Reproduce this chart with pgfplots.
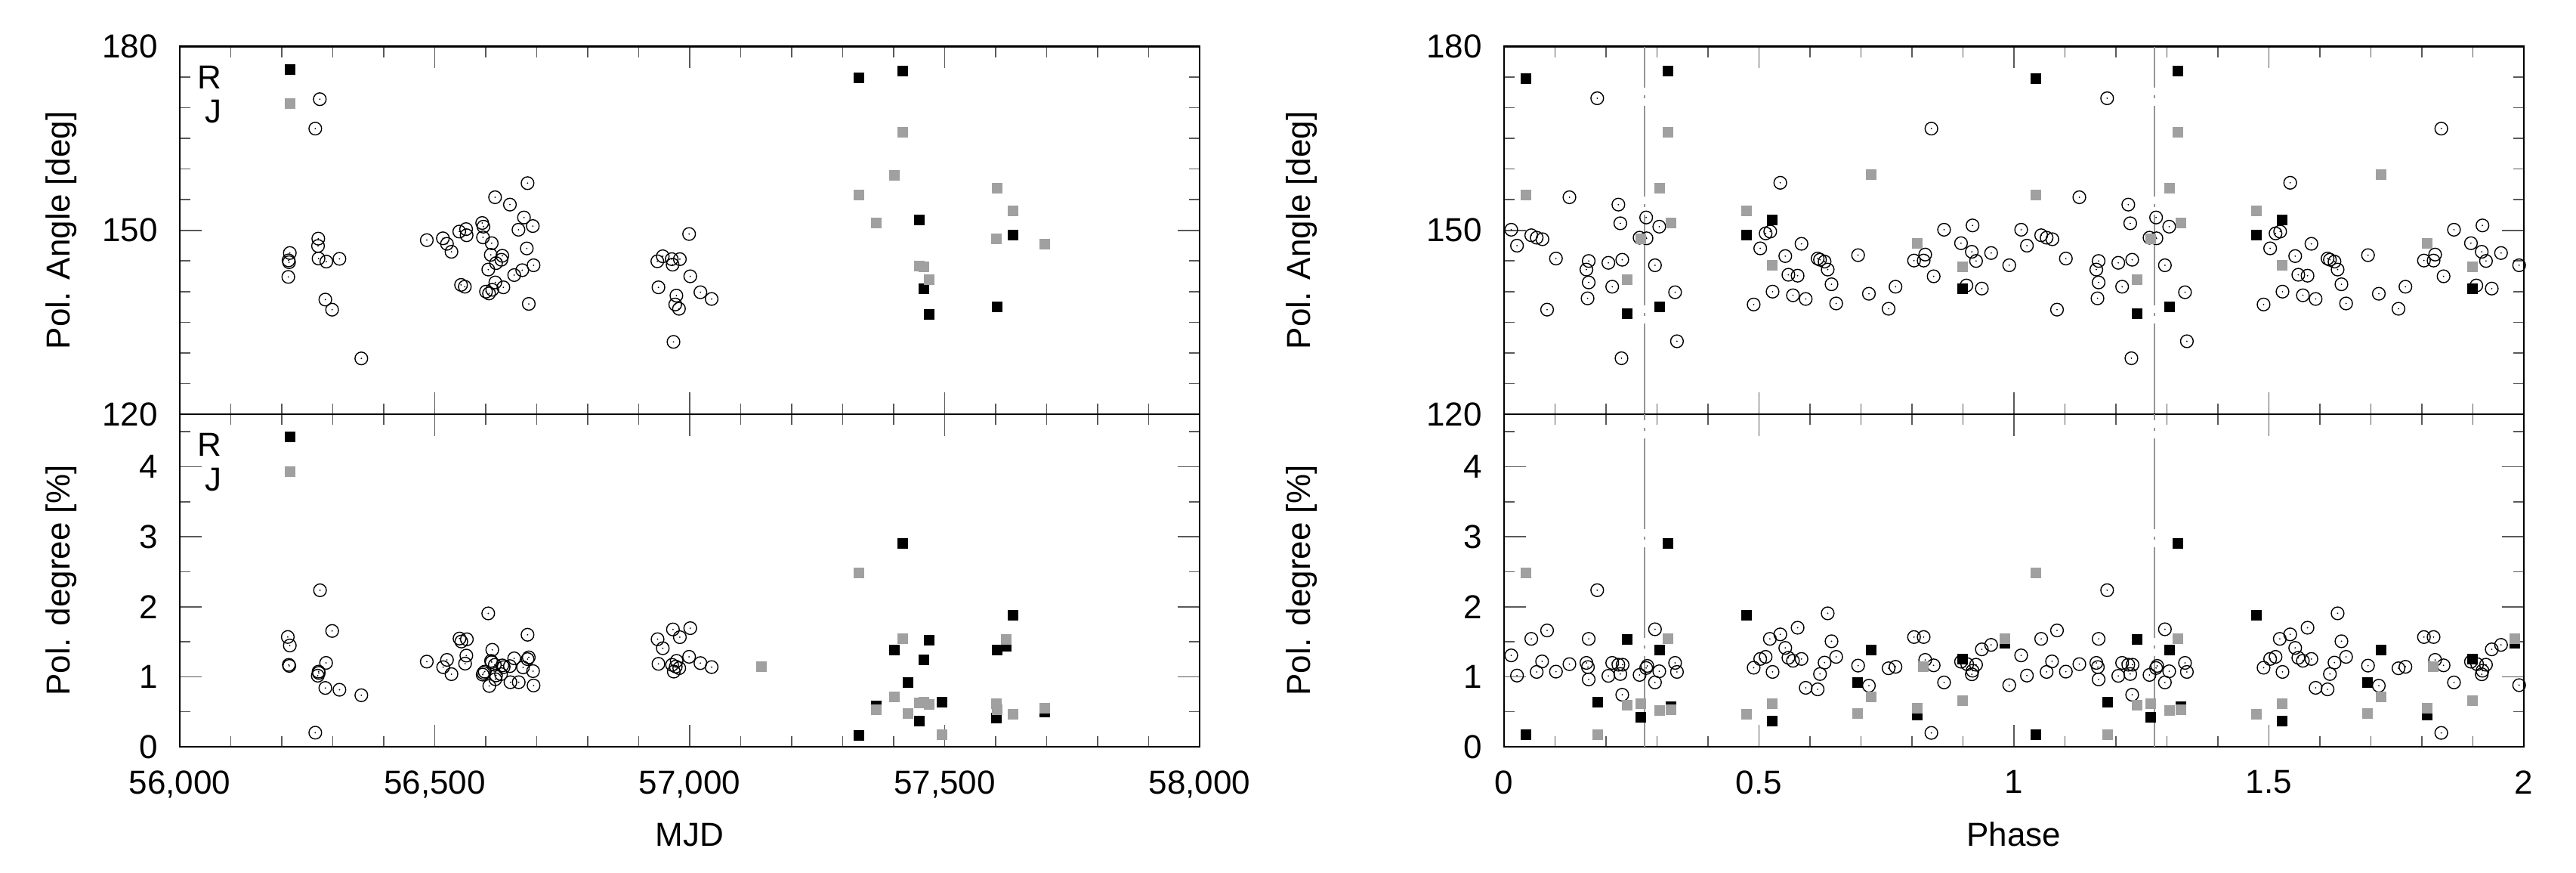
\documentclass[border=0pt]{standalone}
\usepackage{fontspec}
\setmainfont{Liberation Sans}
\usepackage{pgfplots}
\usepackage{pgfplotstable}
\pgfplotsset{compat=1.18}

\definecolor{jgray}{RGB}{160,160,160}
\definecolor{lgray}{RGB}{150,150,150}

% open circle with a small dot in the middle
\pgfdeclareplotmark{cdot}{%
  \pgfpathcircle{\pgfpointorigin}{\pgfplotmarksize}\pgfusepathqstroke
  \pgfpathcircle{\pgfpointorigin}{0.25pt}\pgfusepathqfill}
% plain filled square, no outline
\pgfdeclareplotmark{fsq}{%
  \pgfpathrectangle{\pgfpoint{-\pgfplotmarksize}{-\pgfplotmarksize}}%
    {\pgfpoint{2\pgfplotmarksize}{2\pgfplotmarksize}}\pgfusepathqfill}

% ---------------- MJD panels ----------------
\pgfplotstableread{
x y
56274.6 171.4
56265.7 166.6
56682.0 157.7
56618.3 155.4
56647.4 154.2
56675.0 152.1
56692.3 150.7
56664.2 150.1
56593.0 151.2
56595.5 150.6
56594.6 148.85
56611.8 147.9
56561.5 150.2
56562.5 149.2
56548.1 149.8
56516.0 148.7
56524.0 147.8
56532.8 146.5
56484.4 148.4
56680.5 147.05
56609.9 146.0
56632.6 145.85
56630.6 145.2
56620.2 144.65
56693.8 144.3
56605.0 143.6
56671.6 143.5
56655.8 142.7
56618.8 141.5
56634.6 140.7
56612.8 140.3
56600.5 140.0
56606.4 139.7
56551.6 141.1
56559.0 140.8
56684.4 138.0
56271.6 148.65
56271.1 147.45
56215.8 146.3
56213.3 145.1
56214.3 144.8
56272.1 145.4
56287.4 144.9
56313.1 145.35
56212.8 142.4
56285.4 138.7
56298.7 137.05
56356.0 129.1
56998.8 149.4
56947.2 145.77
56936.5 144.95
56964.8 145.3
56980.7 145.3
56966.5 144.4
57001.1 142.5
56938.7 140.7
56973.9 139.35
57021.0 139.9
57043.0 138.8
56971.6 137.9
56979.0 137.2
56968.2 131.8
}\ltopO

\pgfplotstableread{
x y
57331.6 174.84
57417.8 176.0
57450.1 151.65
57634.3 149.2
57459.7 140.5
57469.3 136.27
57603.2 137.46
}\ltopR

\pgfplotstableread{
x y
57417.8 166.0
57401.9 159.0
57331.6 155.76
57365.6 151.2
57603.2 156.83
57634.3 153.2
57602.0 148.56
57696.1 147.8
57450.1 144.2
57459.7 144.0
57469.3 141.95
}\ltopJ

\pgfplotstableread{
x y
56275.0 2.235
56298.8 1.654
56211.8 1.568
56215.8 1.446
56213.8 1.17
56214.8 1.155
56286.9 1.198
56272.1 1.073
56272.6 1.055
56270.6 1.015
56285.4 0.840
56313.1 0.814
56356.0 0.736
56265.7 0.201
56604.9 1.905
56682.0 1.600
56548.6 1.546
56552.1 1.503
56563.0 1.535
56612.8 1.385
56562.0 1.302
56559.5 1.188
56484.4 1.216
56524.0 1.241
56516.5 1.137
56532.8 1.037
56610.4 1.227
56611.8 1.209
56617.8 1.17
56655.8 1.263
56684.4 1.277
56682.0 1.252
56673.1 1.134
56692.8 1.08
56632.6 1.162
56635.1 1.137
56647.4 1.152
56598.0 1.073
56595.5 1.055
56594.0 1.03
56620.2 1.019
56630.0 1.037
56618.8 0.965
56648.4 0.922
56664.7 0.922
56606.9 0.868
56693.8 0.875
57001.1 1.694
56967.1 1.676
56980.7 1.565
56937.0 1.536
56947.2 1.407
56998.8 1.285
56938.7 1.184
57021.0 1.195
57043.0 1.138
56974.4 1.227
56965.4 1.17
56972.7 1.145
56979.5 1.123
56968.8 1.073
}\lbotO

\pgfplotstableread{
x y
57418.3 2.903
57634.3 1.873
57469.3 1.525
57401.9 1.378
57603.2 1.378
57621.3 1.432
57459.7 1.245
57428.0 0.919
57494.3 0.635
57365.6 0.578
57450.1 0.37
57602.0 0.413
57696.1 0.495
57331.6 0.165
}\lbotR

\pgfplotstableread{
x y
57140.0 1.145
57331.6 2.487
57418.3 1.54
57621.3 1.536
57401.9 0.714
57365.6 0.524
57450.1 0.625
57459.7 0.642
57469.3 0.6
57428.0 0.474
57494.3 0.176
57602.0 0.617
57603.2 0.524
57634.3 0.467
57696.1 0.553
}\lbotJ

% ---------------- phase panels (two cycles) ----------------
\pgfplotstableread{
x y
0.0141 150.1
0.0254 147.5
0.0534 149.2
0.0640 148.8
0.0753 148.55
0.0844 137.06
0.1018 145.4
0.1282 155.4
0.1615 143.6
0.1660 145.0
0.1660 141.5
0.1638 138.9
0.1827 171.55
0.2046 144.7
0.2121 140.8
0.2242 154.2
0.2280 151.15
0.2318 145.2
0.2303 129.13
0.2658 148.8
0.2787 152.1
0.2794 148.7
0.2960 144.3
0.3044 150.6
0.3354 139.9
0.3391 131.9
0.4895 137.9
0.5024 147.06
0.5130 149.5
0.5220 149.8
0.5266 140.0
0.5417 157.76
0.5515 145.8
0.5576 142.75
0.5666 139.4
0.5757 142.6
0.5833 147.8
0.5916 138.8
0.6150 145.4
0.6196 145.2
0.6286 144.9
0.6347 143.6
0.6422 141.2
0.6513 138.07
0.6943 145.95
0.7155 139.65
0.7541 137.2
0.7677 140.8
0.8040 145.07
0.8229 145.07
0.8259 146.05
0.8380 166.6
0.8425 142.5
0.8629 150.1
0.8962 147.9
0.9068 141.0
0.9173 146.5
0.9188 150.8
0.9257 145.0
0.9370 140.5
0.9552 146.3
0.9907 144.3
1.0141 150.1
1.0254 147.5
1.0534 149.2
1.0640 148.8
1.0753 148.55
1.0844 137.06
1.1018 145.4
1.1282 155.4
1.1615 143.6
1.1660 145.0
1.1660 141.5
1.1638 138.9
1.1827 171.55
1.2046 144.7
1.2121 140.8
1.2242 154.2
1.2280 151.15
1.2318 145.2
1.2303 129.13
1.2658 148.8
1.2787 152.1
1.2794 148.7
1.2960 144.3
1.3044 150.6
1.3354 139.9
1.3391 131.9
1.4895 137.9
1.5024 147.06
1.5130 149.5
1.5220 149.8
1.5266 140.0
1.5417 157.76
1.5515 145.8
1.5576 142.75
1.5666 139.4
1.5757 142.6
1.5833 147.8
1.5916 138.8
1.6150 145.4
1.6196 145.2
1.6286 144.9
1.6347 143.6
1.6422 141.2
1.6513 138.07
1.6943 145.95
1.7155 139.65
1.7541 137.2
1.7677 140.8
1.8040 145.07
1.8229 145.07
1.8259 146.05
1.8380 166.6
1.8425 142.5
1.8629 150.1
1.8962 147.9
1.9068 141.0
1.9173 146.5
1.9188 150.8
1.9257 145.0
1.9370 140.5
1.9552 146.3
1.9907 144.3
}\rtopO

\pgfplotstableread{
x y
0.0436 174.8
0.2416 136.35
0.3051 137.5
0.3210 175.95
0.4752 149.2
0.5258 151.65
0.8999 140.5
1.0436 174.8
1.2416 136.35
1.3051 137.5
1.3210 175.95
1.4752 149.2
1.5258 151.65
1.8999 140.5
}\rtopR

\pgfplotstableread{
x y
0.0436 155.74
0.2416 141.99
0.2688 148.56
0.3051 156.84
0.3210 166.0
0.3278 151.2
0.4752 153.2
0.5258 144.24
0.7193 159.04
0.8108 147.85
0.8999 144.0
1.0436 155.74
1.2416 141.99
1.2688 148.56
1.3051 156.84
1.3210 166.0
1.3278 151.2
1.4752 153.2
1.5258 144.24
1.7193 159.04
1.8108 147.85
1.8999 144.0
}\rtopJ

\pgfplotstableread{
x y
0.0141 1.305
0.0254 1.017
0.0534 1.541
0.0640 1.069
0.0746 1.219
0.0844 1.661
0.1018 1.073
0.1282 1.18
0.1615 1.198
0.1645 1.138
0.1660 1.541
0.1660 0.962
0.1827 2.236
0.2046 1.013
0.2121 1.198
0.2242 1.172
0.2280 1.039
0.2325 1.172
0.2318 0.743
0.2658 1.026
0.2787 1.125
0.2809 1.155
0.2960 1.678
0.2960 0.919
0.3044 1.078
0.3354 1.198
0.3391 1.069
0.4895 1.129
0.5024 1.254
0.5130 1.284
0.5213 1.541
0.5266 1.069
0.5417 1.605
0.5515 1.412
0.5576 1.271
0.5666 1.228
0.5757 1.700
0.5833 1.254
0.5916 0.842
0.6150 0.820
0.6196 1.039
0.6286 1.202
0.6347 1.906
0.6422 1.507
0.6513 1.284
0.6943 1.159
0.7155 0.872
0.7541 1.121
0.7677 1.142
0.8040 1.567
0.8229 1.567
0.8259 1.241
0.8380 0.198
0.8425 1.163
0.8629 0.919
0.8962 1.215
0.9083 1.180
0.9173 1.035
0.9188 1.086
0.9257 1.172
0.9370 1.391
0.9552 1.455
0.9907 0.880
1.0141 1.305
1.0254 1.017
1.0534 1.541
1.0640 1.069
1.0746 1.219
1.0844 1.661
1.1018 1.073
1.1282 1.18
1.1615 1.198
1.1645 1.138
1.1660 1.541
1.1660 0.962
1.1827 2.236
1.2046 1.013
1.2121 1.198
1.2242 1.172
1.2280 1.039
1.2325 1.172
1.2318 0.743
1.2658 1.026
1.2787 1.125
1.2809 1.155
1.2960 1.678
1.2960 0.919
1.3044 1.078
1.3354 1.198
1.3391 1.069
1.4895 1.129
1.5024 1.254
1.5130 1.284
1.5213 1.541
1.5266 1.069
1.5417 1.605
1.5515 1.412
1.5576 1.271
1.5666 1.228
1.5757 1.700
1.5833 1.254
1.5916 0.842
1.6150 0.820
1.6196 1.039
1.6286 1.202
1.6347 1.906
1.6422 1.507
1.6513 1.284
1.6943 1.159
1.7155 0.872
1.7541 1.121
1.7677 1.142
1.8040 1.567
1.8229 1.567
1.8259 1.241
1.8380 0.198
1.8425 1.163
1.8629 0.919
1.8962 1.215
1.9083 1.180
1.9173 1.035
1.9188 1.086
1.9257 1.172
1.9370 1.391
1.9552 1.455
1.9907 0.880
}\rbotO

\pgfplotstableread{
x y
0.0436 0.172
0.1842 0.640
0.2416 1.528
0.2688 0.417
0.3051 1.378
0.3210 2.905
0.3278 0.57
0.4752 1.876
0.5258 0.366
0.6929 0.919
0.7193 1.378
0.8108 0.45
0.8999 1.25
0.9823 1.48
1.0436 0.172
1.1842 0.640
1.2416 1.528
1.2688 0.417
1.3051 1.378
1.3210 2.905
1.3278 0.57
1.4752 1.876
1.5258 0.366
1.6929 0.919
1.7193 1.378
1.8108 0.45
1.8999 1.25
1.9823 1.48
}\rbotR

\pgfplotstableread{
x y
0.0436 2.485
0.1842 0.177
0.2416 0.597
0.2688 0.618
0.3051 0.520
0.3210 1.541
0.3278 0.533
0.4752 0.468
0.5258 0.618
0.6929 0.477
0.7193 0.713
0.8108 0.546
0.8221 1.146
0.8999 0.661
0.9823 1.541
1.0436 2.485
1.1842 0.177
1.2416 0.597
1.2688 0.618
1.3051 0.520
1.3210 1.541
1.3278 0.533
1.4752 0.468
1.5258 0.618
1.6929 0.477
1.7193 0.713
1.8108 0.546
1.8221 1.146
1.8999 0.661
1.9823 1.541
}\rbotJ

\pgfplotsset{
  panel/.style={
    scale only axis, width=337.5pt, anchor=south west,
    axis line style={line width=0.6pt},
    tick style={black!65, line width=0.4pt},
    major tick length=7.2pt, minor tick length=3.6pt,
    tick label style={font=\fontsize{11}{13}\selectfont},
    label style={font=\fontsize{11}{13}\selectfont},
    /pgf/number format/assume math mode=true,
    scaled ticks=false,
    yticklabel style={xshift=-3.8pt},
    xticklabel style={yshift=-4.3pt},
    xlabel style={at={(axis description cs:0.5,0)}, anchor=base, yshift=-33pt},
  },
  toppanel/.style={panel, height=121.625pt,
    ymin=120, ymax=180, ytick={120,150,180}, minor y tick num=5,
    xticklabel=\empty},
  botpanel/.style={panel, height=110pt,
    ymin=0, ymax=4.75, ytick={0,1,2,3,4}, minor ytick={0.5,1.5,2.5,3.5,4.5}},
  mjd/.style={xmin=56000, xmax=58000, xtick={56000,56500,57000,57500,58000},
    minor x tick num=4,
    x tick label style={/pgf/number format/.cd, fixed, 1000 sep={,}}},
  phase/.style={xmin=0, xmax=2, xtick={0,0.5,1,1.5,2}, minor x tick num=4},
  circ/.style={only marks, mark=cdot, mark size=2.1pt,
    mark options={line width=0.35pt, black}, forget plot},
  rsq/.style={only marks, black, mark=fsq, mark size=1.75pt},
  jsq/.style={only marks, jgray, mark=fsq, mark size=1.75pt},
  vline/.style={lgray, line width=0.35pt,
    dash pattern=on 30pt off 2.5pt on 1pt off 2.5pt, forget plot},
  leg/.style={legend plot pos=right, legend cell align=right,
    legend image code/.code={\draw[##1] plot coordinates {(0pt,4pt)};},
    legend style={at={(0,1)}, anchor=north west, xshift=5.8pt, yshift=-5.6pt,
      draw=none, fill=none, inner sep=0pt, row sep=0pt,
      font=\fontsize{11}{13}\selectfont,
      nodes={inner sep=0pt, text height=8pt, text depth=3.3pt},
      /tikz/every odd column/.append style={column sep=20.75pt}}},
}

\begin{document}
\begin{tikzpicture}
\useasboundingbox (0,0) rectangle (852.5pt,288.75pt);

% MJD, polarisation angle
\begin{axis}[toppanel, mjd, leg, at={(59.5pt,151.75pt)},
  ylabel={Pol. Angle [deg]},
  ylabel style={at={(axis description cs:-0.108,0.5)}, anchor=base}]
  \addplot[circ] table {\ltopO};
  \addplot[rsq] table {\ltopR};
  \addlegendentry{R}
  \addplot[jsq] table {\ltopJ};
  \addlegendentry{J}
\end{axis}

% MJD, polarisation degree
\begin{axis}[botpanel, mjd, leg, at={(59.5pt,41.75pt)},
  xlabel={MJD}, ylabel={Pol. degree [\%]},
  ylabel style={at={(axis description cs:-0.108,0.5)}, anchor=base}]
  \addplot[circ] table {\lbotO};
  \addplot[rsq] table {\lbotR};
  \addlegendentry{R}
  \addplot[jsq] table {\lbotJ};
  \addlegendentry{J}
\end{axis}

% phase, polarisation angle
\begin{axis}[toppanel, phase, at={(497.75pt,151.75pt)},
  ylabel={Pol. Angle [deg]},
  ylabel style={at={(axis description cs:-0.19,0.5)}, anchor=base}]
  \addplot[vline] coordinates {(0.2756,120) (0.2756,180)};
  \addplot[vline] coordinates {(1.2756,120) (1.2756,180)};
  \addplot[circ] table {\rtopO};
  \addplot[rsq] table {\rtopR};
  \addplot[jsq] table {\rtopJ};
\end{axis}

% phase, polarisation degree
\begin{axis}[botpanel, phase, at={(497.75pt,41.75pt)},
  xlabel={Phase}, ylabel={Pol. degree [\%]},
  ylabel style={at={(axis description cs:-0.19,0.5)}, anchor=base}]
  \addplot[vline] coordinates {(0.2756,0) (0.2756,4.75)};
  \addplot[vline] coordinates {(1.2756,0) (1.2756,4.75)};
  \addplot[circ] table {\rbotO};
  \addplot[rsq] table {\rbotR};
  \addplot[jsq] table {\rbotJ};
\end{axis}
\end{tikzpicture}
\end{document}
